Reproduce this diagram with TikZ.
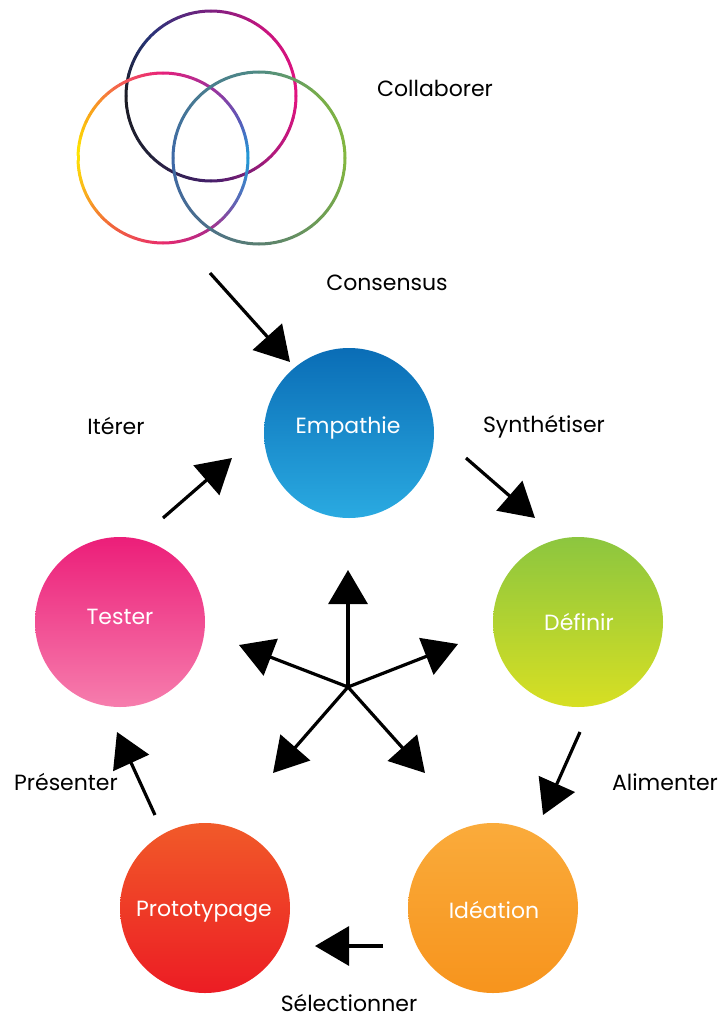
\documentclass[tikz,border=0pt]{standalone}
\usepackage{fontspec}
\setmainfont{Poppins}
\usetikzlibrary{arrows.meta}

% fill colours of the five stage discs
\definecolor{empTop}{HTML}{0A6DB6}\definecolor{empBot}{HTML}{2AAAE1}
\definecolor{defTop}{HTML}{8CC63F}\definecolor{defBot}{HTML}{D7DF23}
\definecolor{ideTop}{HTML}{FAAB3B}\definecolor{ideBot}{HTML}{F7941D}
\definecolor{proTop}{HTML}{F15A29}\definecolor{proBot}{HTML}{EC1C24}
\definecolor{tesTop}{HTML}{EC1E79}\definecolor{tesBot}{HTML}{F67DAD}

% ring colours
\definecolor{rMag}{HTML}{E2137F}\definecolor{rMagB}{HTML}{B01A7C}
\definecolor{rPur}{HTML}{45206C}\definecolor{rNavyA}{HTML}{22223A}
\definecolor{rBlack}{HTML}{1C1C22}\definecolor{rNavy}{HTML}{263478}
\definecolor{rPlum}{HTML}{7A2080}\definecolor{rMagC}{HTML}{C8147E}
\definecolor{lBlue}{HTML}{1F9BD7}\definecolor{lViol}{HTML}{5A6AB8}
\definecolor{lPurp}{HTML}{B02A88}\definecolor{lPink}{HTML}{E82A6E}
\definecolor{lOrR}{HTML}{F26A38}\definecolor{lAmb}{HTML}{FBC515}
\definecolor{lYel}{HTML}{FEE600}\definecolor{lOra}{HTML}{F9A01E}
\definecolor{lRed}{HTML}{F2545A}\definecolor{lRose}{HTML}{E8207A}
\definecolor{lVio}{HTML}{A0309A}\definecolor{lInd}{HTML}{5A5AB8}
\definecolor{gGreen}{HTML}{84B83F}\definecolor{gOlive}{HTML}{6E9E55}
\definecolor{gGrey}{HTML}{5A8070}\definecolor{gSlate}{HTML}{4A6E8E}
\definecolor{gSteel}{HTML}{3D68A8}\definecolor{gSteelB}{HTML}{487A92}
\definecolor{gTeal}{HTML}{4E8A84}\definecolor{gLeaf}{HTML}{78AD4A}

\tikzset{
  stage/.style={circle, minimum size=170pt, inner sep=0pt},
  lbl/.style={text=black, font=\fontsize{22}{26}\selectfont, inner sep=0pt},
  arr/.style={line width=3.2pt, -{Triangle[length=34pt,width=39pt]}},
  ring/.style={line width=3pt, line cap=round},
}

% ring drawn as a chain of short arcs whose colour blends between stops
\newcommand\blendring[4]{% cx, cy, r, list a/b/colA/colB
  \foreach \a/\b/\ca/\cb in {#4}{
    \foreach \k in {0,...,5}{
      \pgfmathsetmacro\s{\a+(\b-\a)*\k/6}
      \pgfmathsetmacro\e{\a+(\b-\a)*(\k+1)/6}
      \pgfmathtruncatemacro\p{100-100*(\k+0.5)/6}
      \draw[ring, color=\ca!\p!\cb] (#1,#2) ++(\s:#3)
        arc[start angle=\s, end angle=\e, radius=#3];
    }
  }
}

\begin{document}
\begin{tikzpicture}[x=1pt, y=-1pt]
\useasboundingbox (0,0) rectangle (720,1020);

% --- three overlapping rings ---
\blendring{211}{96}{85}{0/45/rMag/rMagB, 45/90/rMagB/rPur, 90/135/rPur/rNavyA,
  135/180/rNavyA/rBlack, 180/225/rBlack/rNavy, 225/270/rNavy/rPlum,
  270/310/rPlum/rMagC, 310/360/rMagC/rMag}
\blendring{163}{158}{85}{0/30/lBlue/lViol, 30/60/lViol/lPurp, 60/90/lPurp/lPink,
  90/130/lPink/lOrR, 130/165/lOrR/lAmb, 165/185/lAmb/lYel, 185/215/lYel/lOra,
  215/245/lOra/lRed, 245/270/lRed/lRose, 270/305/lRose/lVio,
  305/335/lVio/lInd, 335/360/lInd/lBlue}
\blendring{259}{158}{86}{0/45/gGreen/gOlive, 45/90/gOlive/gGrey, 90/135/gGrey/gSlate,
  135/180/gSlate/gSteel, 180/225/gSteel/gSteelB, 225/270/gSteelB/gTeal,
  270/315/gTeal/gLeaf, 315/360/gLeaf/gGreen}

% --- stages ---
\node[stage, top color=empTop, bottom color=empBot] (emp) at (349,433) {};
\node[stage, top color=defTop, bottom color=defBot] (def) at (578,622) {};
\node[stage, top color=ideTop, bottom color=ideBot] (ide) at (493,908) {};
\node[stage, top color=proTop, bottom color=proBot] (pro) at (205,908) {};
\node[stage, top color=tesTop, bottom color=tesBot] (tes) at (120,622) {};

\node[lbl, text=white] (tEmp) at (348,428) {Empathie};
\node[lbl, text=white] (tDef) at (579,622) {Définir};
\node[lbl, text=white] (tIde) at (494,910) {Idéation};
\node[lbl, text=white] (tPro) at (204,912) {Prototypage};
\node[lbl, text=white] (tTes) at (120,617) {Tester};

% --- step labels ---
\node[lbl] (collab) at (435,88) {Collaborer};
\node[lbl] (cons) at (387,283) {Consensus};
\node[lbl] (iter) at (116,426) {Itérer};
\node[lbl] (synth) at (544,427) {Synthétiser};
\node[lbl] (alim) at (665,782) {Alimenter};
\node[lbl] (pres) at (66,782) {Présenter};
\node[lbl] (sel) at (349,1003) {Sélectionner};

% --- connector end points ---
\coordinate (c1a) at (210,273); \coordinate (c1b) at (290,362);
\coordinate (c2a) at (466,458); \coordinate (c2b) at (535,518);
\coordinate (c3a) at (580,732); \coordinate (c3b) at (543,815);
\coordinate (c4a) at (383,946); \coordinate (c4b) at (315,946);
\coordinate (c5a) at (155,815); \coordinate (c5b) at (117,732);
\coordinate (c6a) at (163,518); \coordinate (c6b) at (232,458);

\draw[arr] (c1a) -- (c1b);
\draw[arr] (c2a) -- (c2b);
\draw[arr] (c3a) -- (c3b);
\draw[arr] (c4a) -- (c4b);
\draw[arr] (c5a) -- (c5b);
\draw[arr] (c6a) -- (c6b);

% --- central star of arrows ---
\coordinate (hub) at (348,687);
\coordinate (s1) at (348,570);
\coordinate (s2) at (458,644);
\coordinate (s3) at (425,773);
\coordinate (s4) at (273,773);
\coordinate (s5) at (239,645);
\foreach \t in {s1,s2,s3,s4,s5}{
  \draw[arr, line cap=round] (hub) -- (\t);
}
\end{tikzpicture}
\end{document}
